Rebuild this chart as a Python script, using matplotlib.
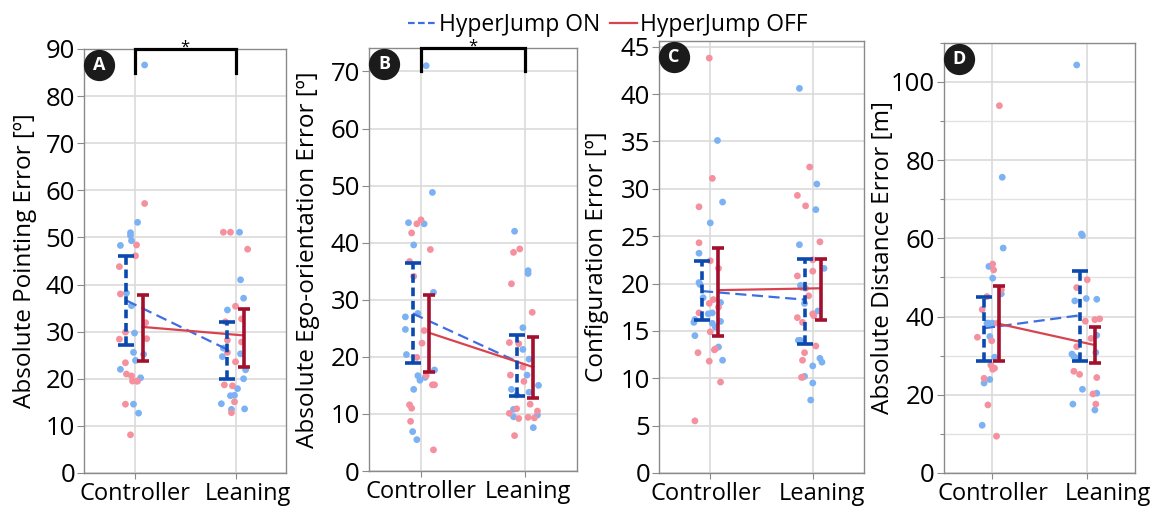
import matplotlib

matplotlib.use("Agg")
import matplotlib.pyplot as plt
import matplotlib.transforms as mtransforms
from matplotlib.lines import Line2D
from matplotlib.ticker import MultipleLocator

plt.rcParams["font.family"] = ["Open Sans", "DejaVu Sans"]

CATS = ["Controller", "Leaning"]
SERIES = ["HyperJump ON", "HyperJump OFF"]

# ---- raw points + horizontal jitter ----
A_CTRL_ON = [86.6, 53.2, 51.0, 50.4, 49.3, 48.3, 38.2, 35.5, 29.7, 25.6, 25.2, 23.9, 22.0, 20.2, 14.6, 12.7]
A_CTRL_ON_J = [0.10, 0.03, -0.04, -0.04, -0.03, -0.14, -0.08, -0.03, 0.0, -0.01, 0.09, 0.01, -0.14, 0.06, -0.01, 0.04]
A_CTRL_OFF = [57.2, 48.4, 46.1, 43.8, 38.0, 31.9, 29.9, 28.5, 28.4, 23.4, 21.0, 20.6, 19.5, 19.5, 19.5, 14.6, 8.1]
A_CTRL_OFF_J = [0.10, 0.02, 0.01, -0.15, -0.14, 0.11, -0.09, 0.12, -0.15, -0.09, -0.08, -0.03, -0.02, 0.02, 0.03, -0.09, -0.04]
A_LEAN_ON = [51.1, 41.0, 37.1, 34.6, 26.5, 24.7, 25.3, 21.9, 20.0, 17.9, 16.4, 16.5, 14.7, 13.5, 13.6]
A_LEAN_ON_J = [0.04, 0.05, 0.08, -0.08, -0.12, -0.13, 0.05, 0.10, 0.08, 0.02, -0.05, -0.01, -0.14, -0.04, 0.09]
A_LEAN_OFF = [51.1, 51.1, 47.5, 35.4, 32.7, 32.1, 28.2, 27.8, 25.6, 23.6, 18.7, 18.5, 15.1, 12.8]
A_LEAN_OFF_J = [-0.12, -0.05, 0.12, 0.0, 0.06, -0.10, -0.08, 0.06, -0.08, 0.0, -0.11, -0.03, -0.01, -0.04]

B_CTRL_ON = [71.0, 48.8, 43.5, 43.3, 39.6, 31.3, 27.6, 27.0, 24.8, 20.4, 17.7, 16.7, 16.4, 15.9, 14.3, 6.9, 5.5]
B_CTRL_ON_J = [0.05, 0.11, -0.12, 0.03, -0.07, 0.12, -0.03, -0.15, -0.15, -0.14, 0.13, -0.03, 0.04, -0.01, -0.07, -0.08, -0.04]
B_CTRL_OFF = [44.0, 43.3, 41.7, 38.8, 36.7, 34.1, 24.6, 22.4, 19.9, 16.7, 15.1, 15.1, 11.6, 11.0, 8.7, 3.7]
B_CTRL_OFF_J = [0.0, -0.04, -0.09, 0.09, -0.11, -0.07, 0.03, 0.01, -0.04, 0.05, 0.11, 0.13, -0.11, -0.09, -0.10, 0.12]
B_LEAN_ON = [42.0, 35.1, 34.6, 25.1, 21.3, 19.6, 16.8, 14.3, 13.3, 13.8, 15.0, 9.5, 9.8, 7.6, 10.8]
B_LEAN_ON_J = [-0.10, 0.03, 0.03, -0.02, -0.02, 0.04, 0.02, -0.13, -0.08, 0.04, 0.13, -0.11, 0.12, 0.08, -0.11]
B_LEAN_OFF = [38.3, 38.9, 32.8, 27.8, 22.5, 22.3, 18.2, 15.7, 16.8, 11.7, 10.9, 10.1, 9.2, 9.4, 9.3, 10.5, 6.2]
B_LEAN_OFF_J = [-0.11, -0.05, -0.13, 0.07, -0.15, -0.06, -0.02, -0.01, -0.14, 0.05, -0.08, -0.15, -0.06, 0.03, 0.09, 0.12, -0.10]

C_CTRL_ON = [35.1, 28.6, 26.4, 23.2, 20.1, 19.9, 18.5, 18.0, 16.9, 16.8, 15.9, 16.2, 15.8, 16.0, 15.4, 14.5, 13.3, 11.9]
C_CTRL_ON_J = [0.07, 0.12, 0.0, -0.11, -0.11, -0.10, -0.07, 0.10, 0.02, -0.02, -0.16, -0.15, 0.02, 0.10, 0.05, -0.15, 0.08, 0.12]
C_CTRL_OFF = [43.8, 31.1, 28.1, 24.3, 22.4, 21.6, 17.9, 18.3, 17.5, 16.9, 14.9, 13.0, 13.1, 12.7, 11.8, 9.6, 5.5]
C_CTRL_OFF_J = [-0.01, 0.02, -0.11, -0.11, 0.0, 0.08, -0.01, 0.03, 0.08, -0.11, 0.0, 0.04, 0.05, -0.12, -0.01, 0.10, -0.15]
C_LEAN_ON = [40.6, 30.5, 27.8, 24.1, 21.6, 19.8, 19.6, 17.9, 17.1, 14.0, 14.0, 12.1, 11.7, 11.3, 10.2, 9.5, 7.7]
C_LEAN_ON_J = [-0.13, 0.04, 0.03, -0.13, 0.11, -0.12, -0.11, -0.08, 0.05, -0.14, -0.12, 0.07, 0.09, 0.0, -0.08, 0.0, -0.02]
C_LEAN_OFF = [32.3, 29.3, 28.2, 24.4, 22.5, 21.3, 20.8, 19.5, 18.7, 16.8, 16.6, 16.4, 15.9, 13.4, 12.7, 11.9, 10.1, 10.1]
C_LEAN_OFF_J = [-0.03, -0.15, -0.07, 0.07, 0.0, 0.0, -0.15, -0.07, -0.04, 0.0, 0.01, -0.15, -0.10, 0.03, -0.08, -0.10, -0.10, -0.11]

D_CTRL_ON = [75.6, 57.5, 52.8, 49.8, 45.8, 38.3, 38.3, 38.3, 34.9, 29.6, 23.9, 23.0, 12.2]
D_CTRL_ON_J = [0.11, 0.12, -0.03, 0.01, 0.10, -0.03, 0.01, -0.05, -0.02, 0.03, -0.02, -0.08, -0.10]
D_CTRL_OFF = [93.9, 53.4, 51.9, 46.8, 45.1, 41.8, 38.3, 34.7, 33.8, 27.6, 26.8, 26.5, 24.2, 17.4, 9.4]
D_CTRL_OFF_J = [0.08, 0.01, 0.02, 0.10, -0.05, -0.10, 0.06, -0.15, 0.0, -0.01, 0.03, 0.01, -0.08, -0.04, 0.05]
D_LEAN_ON = [104.3, 61.1, 60.7, 44.0, 44.6, 44.4, 35.2, 30.8, 30.4, 29.8, 29.4, 21.4, 20.4, 17.6, 16.1]
D_LEAN_ON_J = [-0.11, -0.06, -0.05, -0.13, -0.01, 0.10, 0.10, 0.09, -0.16, -0.14, -0.12, -0.05, 0.10, -0.15, 0.08]
D_LEAN_OFF = [49.4, 47.4, 39.4, 39.2, 38.8, 34.4, 32.3, 26.0, 25.2, 24.4, 20.2, 17.6]
D_LEAN_OFF_J = [0.0, -0.11, 0.13, 0.08, -0.02, 0.04, -0.11, -0.14, -0.08, 0.10, 0.06, 0.09]

# ---- means and interval ends per category [Controller, Leaning] ----
A_ON_MEAN, A_ON_LO, A_ON_HI = [36.6, 26.2], [27.1, 20.0], [46.0, 32.1]
A_OFF_MEAN, A_OFF_LO, A_OFF_HI = [31.0, 29.2], [23.7, 22.4], [37.7, 34.8]
B_ON_MEAN, B_ON_LO, B_ON_HI = [27.6, 19.2], [18.9, 13.2], [36.4, 23.8]
B_OFF_MEAN, B_OFF_LO, B_OFF_HI = [24.2, 18.2], [17.4, 12.8], [30.8, 23.5]
C_ON_MEAN, C_ON_LO, C_ON_HI = [19.2, 18.3], [16.2, 13.6], [22.4, 22.6]
C_OFF_MEAN, C_OFF_LO, C_OFF_HI = [19.3, 19.5], [14.5, 16.2], [23.7, 22.6]
D_ON_MEAN, D_ON_LO, D_ON_HI = [37.0, 40.3], [28.5, 28.5], [44.9, 51.7]
D_OFF_MEAN, D_OFF_LO, D_OFF_HI = [38.1, 32.7], [28.5, 28.2], [47.7, 37.4]

YLABELS = ["Absolute Pointing Error [º]", "Absolute Ego-orientation Error [º]",
           "Configuration Error [º]", "Absolute Distance Error [m]"]
LETTERS = ["A", "B", "C", "D"]
YMAX = [90, 74.1, 45.6, 110]
BRACKET_LOW = [85, 70, None, None]  # significance bracket drop (data units)

# colours
PT_ON, PT_OFF = "#7cb2f4", "#f5919f"
BAR_ON, BAR_OFF = "#0b49ae", "#a3102d"
LINE_ON, LINE_OFF = "#3d6fe2", "#d9434f"
OFF_X_ON, OFF_X_OFF = -0.08, 0.08

panels = [
    dict(pts=[(A_CTRL_ON, A_CTRL_ON_J), (A_CTRL_OFF, A_CTRL_OFF_J), (A_LEAN_ON, A_LEAN_ON_J), (A_LEAN_OFF, A_LEAN_OFF_J)],
         on=(A_ON_MEAN, A_ON_LO, A_ON_HI), off=(A_OFF_MEAN, A_OFF_LO, A_OFF_HI),
         rect=[0.0727, 0.0671, 0.1747, 0.8363], major=10, minor=None, lab_x=-0.233, shift=(0, 12.5)),
    dict(pts=[(B_CTRL_ON, B_CTRL_ON_J), (B_CTRL_OFF, B_CTRL_OFF_J), (B_LEAN_ON, B_LEAN_ON_J), (B_LEAN_OFF, B_LEAN_OFF_J)],
         on=(B_ON_MEAN, B_ON_LO, B_ON_HI), off=(B_OFF_MEAN, B_OFF_LO, B_OFF_HI),
         rect=[0.3192, 0.0710, 0.1799, 0.8343], major=10, minor=None, lab_x=-0.236, shift=(0, 2.5)),
    dict(pts=[(C_CTRL_ON, C_CTRL_ON_J), (C_CTRL_OFF, C_CTRL_OFF_J), (C_LEAN_ON, C_LEAN_ON_J), (C_LEAN_OFF, C_LEAN_OFF_J)],
         on=(C_ON_MEAN, C_ON_LO, C_ON_HI), off=(C_OFF_MEAN, C_OFF_LO, C_OFF_HI),
         rect=[0.5701, 0.0671, 0.1773, 0.8520], major=5, minor=None, lab_x=-0.244, shift=(-4.7, 9)),
    dict(pts=[(D_CTRL_ON, D_CTRL_ON_J), (D_CTRL_OFF, D_CTRL_OFF_J), (D_LEAN_ON, D_LEAN_ON_J), (D_LEAN_OFF, D_LEAN_OFF_J)],
         on=(D_ON_MEAN, D_ON_LO, D_ON_HI), off=(D_OFF_MEAN, D_OFF_LO, D_OFF_HI),
         rect=[0.8166, 0.0671, 0.1652, 0.8487], major=20, minor=10, lab_x=-0.257, shift=(1, 20.5)),
]

fig = plt.figure(figsize=(11.56, 5.07), dpi=100)
badge_off = mtransforms.ScaledTranslation(15 / 100, -16 / 100, fig.dpi_scale_trans)

for k, p in enumerate(panels):
    ax = fig.add_axes(p["rect"])
    ax.set_xlim(-0.5, 1.5)
    ax.set_ylim(0, YMAX[k])
    ax.yaxis.set_major_locator(MultipleLocator(p["major"]))
    if p["minor"]:
        ax.yaxis.set_minor_locator(MultipleLocator(p["minor"]))
        ax.grid(True, which="minor", axis="y", color="#e2e2e2", lw=1.0, zorder=0)
    ax.grid(True, which="major", color="#dadada", lw=1.2, zorder=0)
    ax.set_axisbelow(True)
    for s in ax.spines.values():
        s.set_color("#8a8a8a")
        s.set_linewidth(1.0)
    ax.tick_params(axis="y", labelsize=18.5, length=5, width=0.8, color="#8a8a8a", pad=1.5)
    ax.tick_params(axis="y", which="minor", length=3, width=0.8, color="#8a8a8a")
    ax.tick_params(axis="x", length=4, width=0.8, color="#8a8a8a", labelbottom=False)
    ax.set_xticks([0, 1])

    # category labels (hand-shifted like the original layout)
    for i, cat in enumerate(CATS):
        ax.annotate(cat, xy=(i, 0), xycoords=("data", "axes fraction"),
                    xytext=(p["shift"][i] * 0.72, -6.5), textcoords="offset points",
                    ha="center", va="top", fontsize=17, annotation_clip=False)

    ax.set_ylabel(YLABELS[k], fontsize=17.5)
    ax.yaxis.set_label_coords(p["lab_x"], 0.5)

    # jittered points
    for j, (vals, jit) in enumerate(p["pts"]):
        cat = j // 2
        col = PT_ON if j % 2 == 0 else PT_OFF
        xs = [cat + d for d in jit]
        ax.scatter(xs, vals, s=24, color=col, edgecolors="none", zorder=2, clip_on=False)

    # mean connecting lines
    xc = [0, 1]
    ax.plot([x + OFF_X_ON for x in xc], p["on"][0], color=LINE_ON, lw=1.6,
            ls=(0, (5, 2.5)), zorder=3)
    ax.plot([x + OFF_X_OFF for x in xc], p["off"][0], color=LINE_OFF, lw=1.6, zorder=3)

    # interval bars
    mean, lo, hi = p["on"]
    eb = ax.errorbar([x + OFF_X_ON for x in xc], mean,
                     yerr=[[m - l for m, l in zip(mean, lo)], [h - m for m, h in zip(mean, hi)]],
                     fmt="none", ecolor=BAR_ON, elinewidth=2.6, capsize=6, capthick=2.6, zorder=4)
    eb[2][0].set_linestyle((0, (2.4, 1.3)))
    mean, lo, hi = p["off"]
    ax.errorbar([x + OFF_X_OFF for x in xc], mean,
                yerr=[[m - l for m, l in zip(mean, lo)], [h - m for m, h in zip(mean, hi)]],
                fmt="none", ecolor=BAR_OFF, elinewidth=2.6, capsize=4.5, capthick=2.6, zorder=4)

    # significance bracket
    if BRACKET_LOW[k] is not None:
        top = YMAX[k]
        ax.plot([0, 0, 1, 1], [BRACKET_LOW[k], top, top, BRACKET_LOW[k]], color="black",
                lw=2.3, clip_on=False, zorder=6, solid_joinstyle="miter")
        ax.annotate("*", xy=(0.5, 1), xycoords=("data", "axes fraction"),
                    xytext=(0, -2), textcoords="offset points", ha="center",
                    va="baseline", fontsize=12, annotation_clip=False)

    # panel letter badge
    ax.plot([0.0], [1.0], transform=ax.transAxes + badge_off, marker="o", ms=21.5,
            color="#1b1b1b", clip_on=False, zorder=7)
    ax.text(0.0, 1.0, LETTERS[k], transform=ax.transAxes + badge_off, ha="center",
            va="center", fontsize=13, fontweight="bold", color="white", zorder=8)

handles = [Line2D([], [], color=LINE_ON, lw=1.6, ls=(0, (3, 1.5))),
           Line2D([], [], color=LINE_OFF, lw=1.6)]
fig.legend(handles, SERIES, loc="upper center", bbox_to_anchor=(0.526, 1.015), ncol=2,
           frameon=False, fontsize=16.5, handlelength=1.2, handletextpad=0.15,
           columnspacing=0.4)

fig.savefig("out.png", dpi=100)
